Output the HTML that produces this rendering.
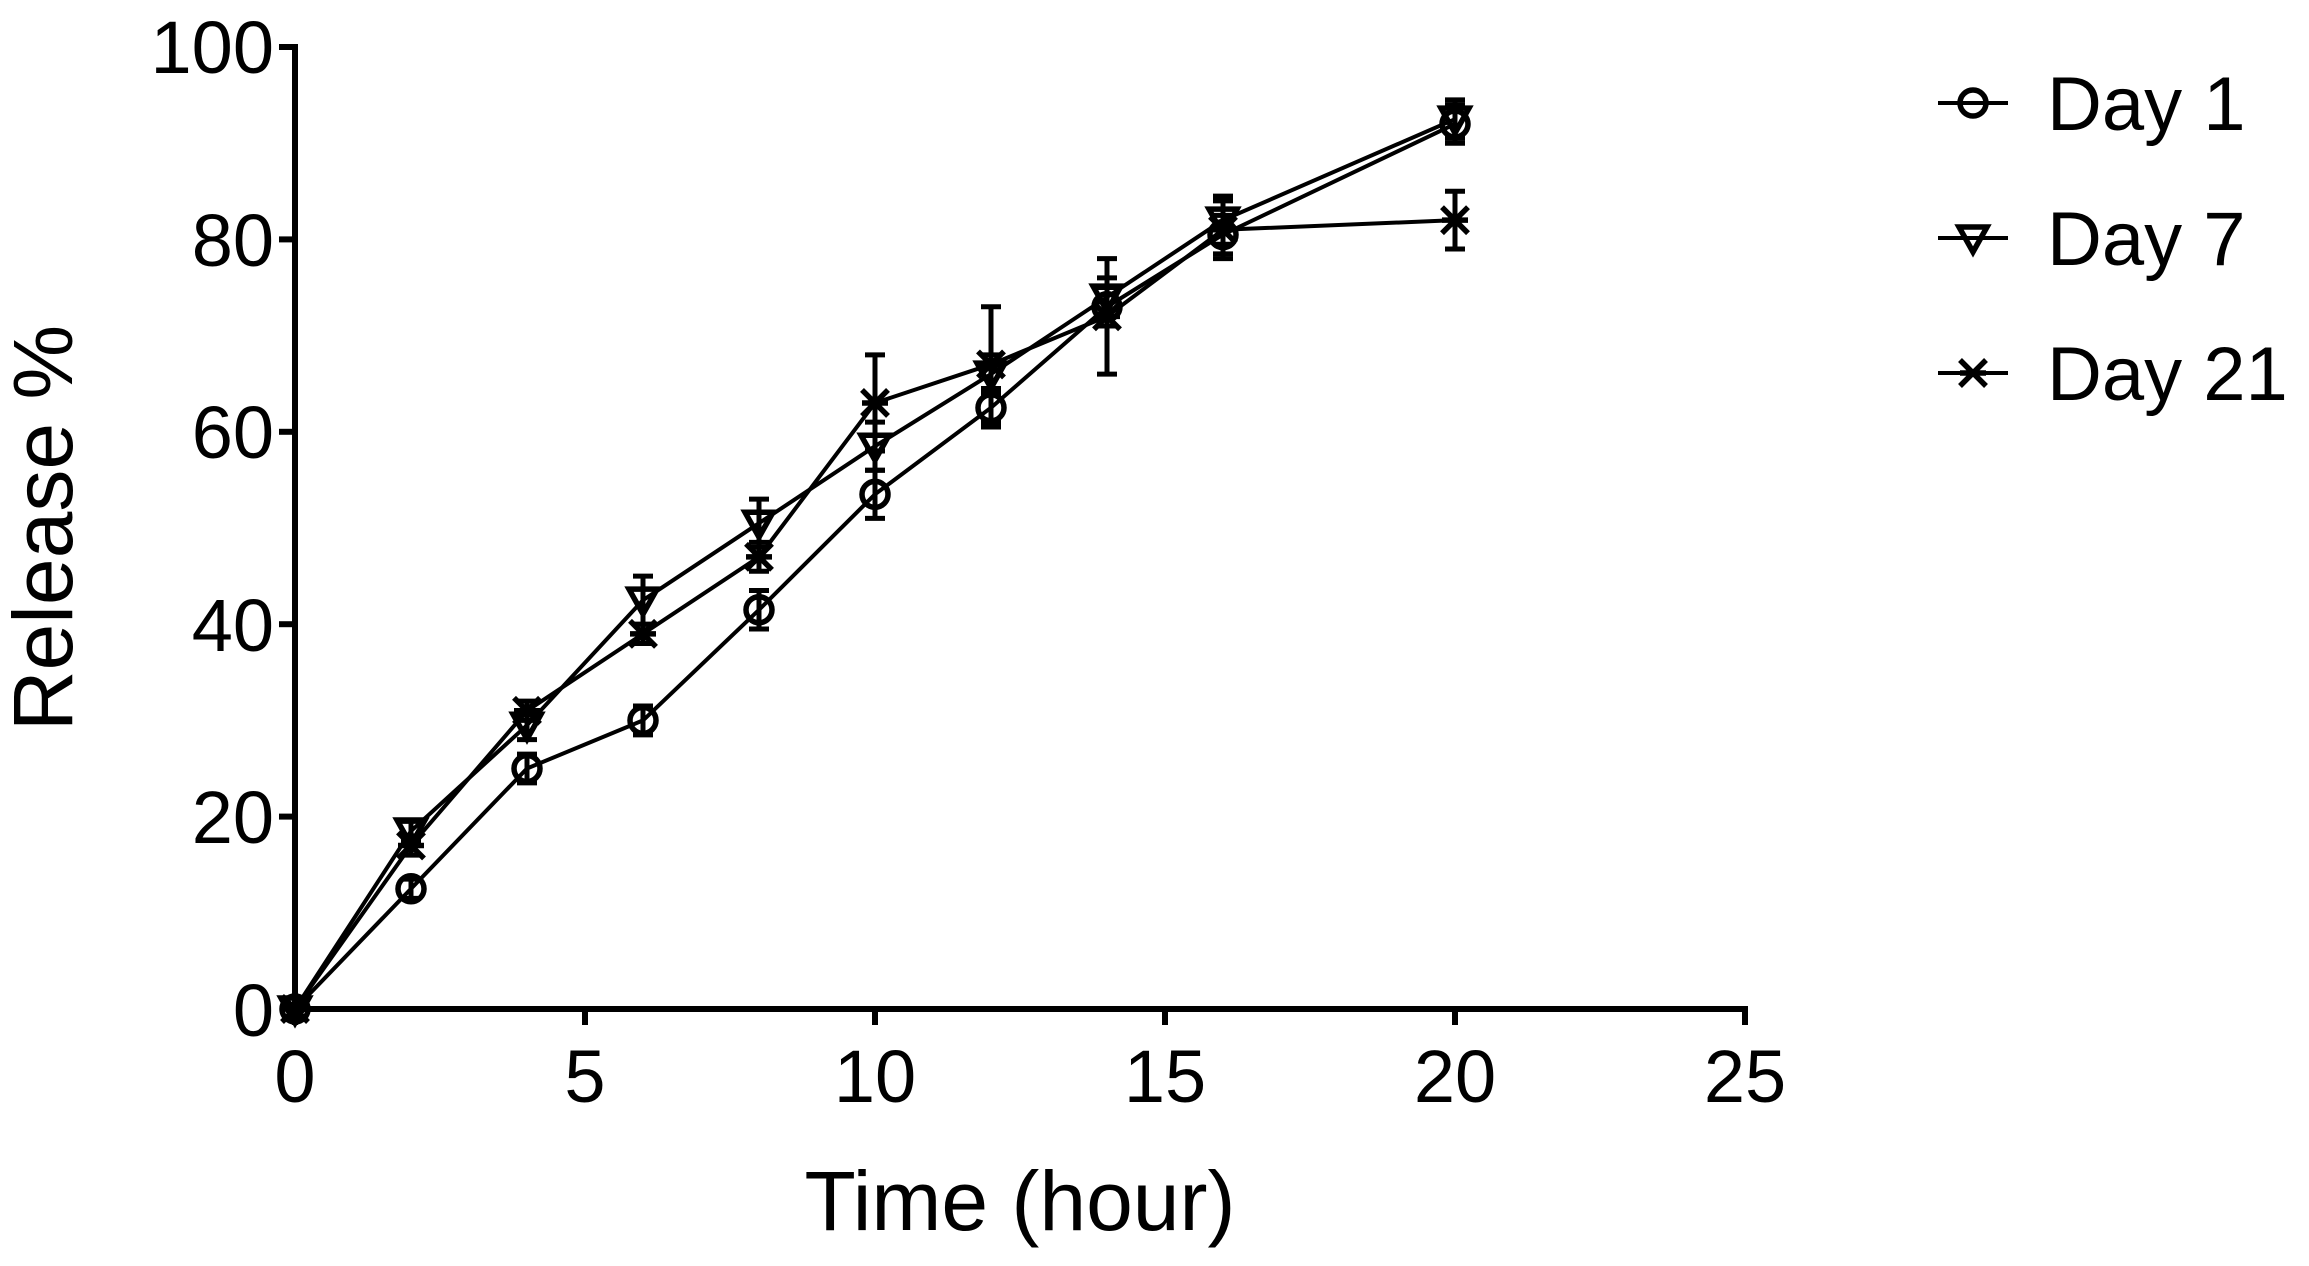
<!DOCTYPE html>
<html><head><meta charset="utf-8"><style>
html,body{margin:0;padding:0;background:#fff;}
svg{display:block;}
text{font-family:"Liberation Sans",Arial,sans-serif;fill:#000;}
</style></head><body>
<svg id="s" width="2309" height="1266" viewBox="0 0 2309 1266" xmlns="http://www.w3.org/2000/svg">
<g stroke="#000" stroke-width="6" fill="none">
<line x1="295" y1="44" x2="295" y2="1012"/>
<line x1="292" y1="1009" x2="1748" y2="1009"/>
<line x1="295" y1="1009" x2="295" y2="1025"/>
<line x1="585" y1="1009" x2="585" y2="1025"/>
<line x1="875" y1="1009" x2="875" y2="1025"/>
<line x1="1165" y1="1009" x2="1165" y2="1025"/>
<line x1="1455" y1="1009" x2="1455" y2="1025"/>
<line x1="1745" y1="1009" x2="1745" y2="1025"/>
<line x1="279" y1="47" x2="295" y2="47"/>
<line x1="279" y1="239.4" x2="295" y2="239.4"/>
<line x1="279" y1="431.8" x2="295" y2="431.8"/>
<line x1="279" y1="624.2" x2="295" y2="624.2"/>
<line x1="279" y1="816.6" x2="295" y2="816.6"/>
</g>
<g font-size="74" text-anchor="end">
<text x="274" y="73">100</text>
<text x="274" y="266">80</text>
<text x="274" y="458">60</text>
<text x="274" y="651">40</text>
<text x="274" y="843">20</text>
<text x="274" y="1036">0</text>
</g>
<g font-size="74" text-anchor="middle">
<text x="295" y="1102">0</text>
<text x="585" y="1102">5</text>
<text x="875" y="1102">10</text>
<text x="1165" y="1102">15</text>
<text x="1455" y="1102">20</text>
<text x="1745" y="1102">25</text>
</g>
<text x="1020" y="1230" font-size="84" text-anchor="middle">Time (hour)</text>
<text transform="translate(72,528) rotate(-90)" font-size="84" text-anchor="middle">Release %</text>
<g font-size="76">
<text x="2047" y="130">Day 1</text>
<text x="2047" y="265">Day 7</text>
<text x="2047" y="400">Day 21</text>
</g>
<g id="plot" stroke="#000" stroke-width="5" fill="none"></g>
</svg>
<script>
var g=document.getElementById('plot');var NS='http://www.w3.org/2000/svg';
function X(v){return 295+58*v;}function Y(v){return 1009-9.62*v;}
function el(t,a){var e=document.createElementNS(NS,t);for(var k in a)e.setAttribute(k,a[k]);g.appendChild(e);return e;}
var xs=[0,2,4,6,8,10,12,14,16,20];
var S=[
{y:[0,12.5,25,30,41.5,53.5,62.5,73,80.5,92],e:[0,1,1.5,1.5,2,2.5,2,2,2,2],m:'o'},
{y:[0,18.5,29.5,42.5,50.5,58.5,66,74,82,92.5],e:[0,1,1.5,2.5,2.5,2.5,2,2,2.5,2],m:'v'},
{y:[0,17,31,39,47,63,67,72,81,82],e:[0,1,1,1,1.5,5,6,6,3,3],m:'x'}];
function marker(m,cx,cy){
 if(m=='o')el('circle',{cx:cx,cy:cy,r:13,'stroke-width':5.5});
 else if(m=='v')el('path',{d:'M'+(cx-14)+','+(cy-11)+' L'+(cx+14)+','+(cy-11)+' L'+cx+','+(cy+14)+'Z','stroke-width':5.5});
 else{el('path',{d:'M'+(cx-13)+','+(cy-13)+' L'+(cx+13)+','+(cy+13)+' M'+(cx+13)+','+(cy-13)+' L'+(cx-13)+','+(cy+13)+' M'+(cx-13)+','+cy+' L'+(cx+13)+','+cy,'stroke-width':5.5});}
}
S.forEach(function(s){
 var d='';xs.forEach(function(x,i){d+=(i?'L':'M')+X(x)+','+Y(s.y[i]);});
 el('path',{d:d,'stroke-width':4});
 xs.forEach(function(x,i){var cx=X(x),cy=Y(s.y[i]),e=s.e[i]*9.62;
  if(e>0){el('line',{x1:cx,y1:cy-e,x2:cx,y2:cy+e});el('line',{x1:cx-10,y1:cy-e,x2:cx+10,y2:cy-e});el('line',{x1:cx-10,y1:cy+e,x2:cx+10,y2:cy+e});}
  marker(s.m,cx,cy);});
});
[103,238,373].forEach(function(y,i){el('line',{x1:1938,y1:y,x2:2008,y2:y,'stroke-width':4});marker(S[i].m,1973,y);});
</script>
</body></html>
